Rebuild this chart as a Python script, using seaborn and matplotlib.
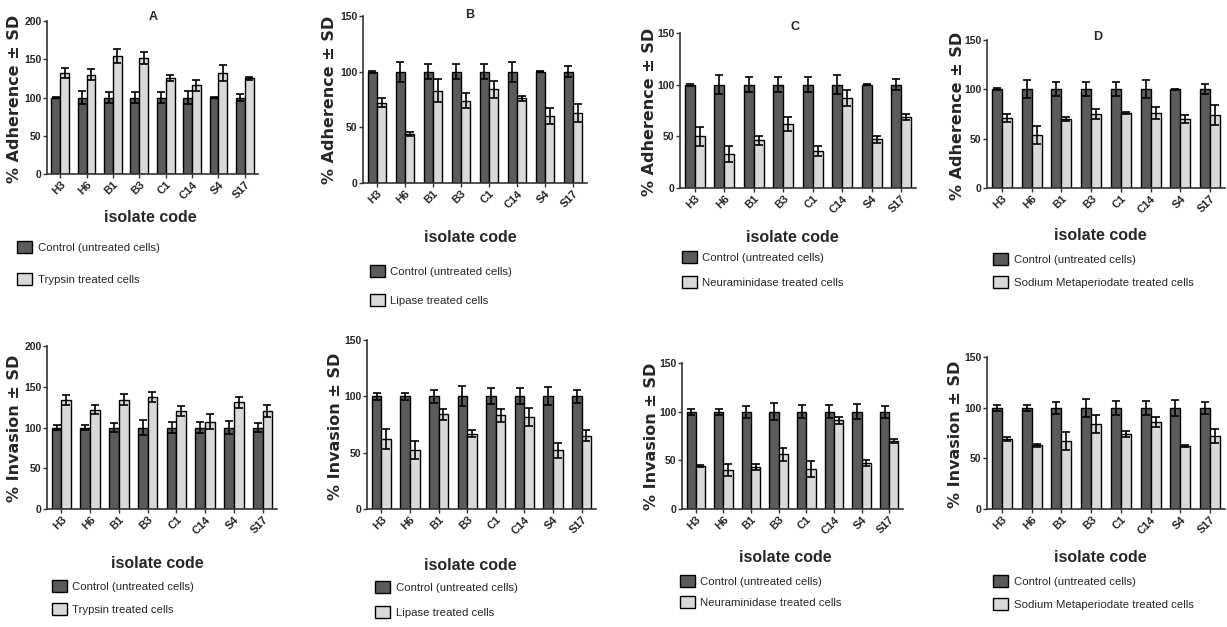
import numpy as np
import pandas as pd
import seaborn as sns
from matplotlib import pyplot as plt

W, H = 1227, 627

isolates = ["H3", "H6", "B1", "B3", "C1", "C14", "S4", "S17"]
control_label = "Control (untreated cells)"

# control bars are 100 % everywhere, only their SD differs
control_mean = [100, 100, 100, 100, 100, 100, 100, 100]
adh_control_sd = [1, 9, 7, 7, 7, 9, 0.5, 5]
inv_control_sd = [3, 3, 6, 9, 7, 7, 8, 6]

# adherence (top row)
adh_trypsin = [132, 130, 154, 152, 126, 116, 132, 125]
adh_trypsin_sd = [7, 7, 9, 8, 4, 7, 10, 2]
adh_lipase = [72, 44, 83, 74, 84, 76, 60, 63]
adh_lipase_sd = [4, 1.5, 10, 7, 8, 2, 7, 8]
adh_neur = [50, 33, 46, 62, 36, 87, 47, 69]
adh_neur_sd = [9, 8, 4, 7, 5, 8, 3, 3]
adh_meta = [71, 54, 70, 75, 76, 76, 70, 74]
adh_meta_sd = [4, 9, 2, 5, 1.5, 6, 4, 10]

# invasion (bottom row)
inv_trypsin = [134, 122, 134, 137, 120, 107, 131, 120]
inv_trypsin_sd = [6, 6, 7, 6, 6, 9, 7, 7]
inv_lipase = [62, 52, 84, 67, 83, 82, 52, 65]
inv_lipase_sd = [9, 8, 5, 3, 6, 8, 7, 5]
inv_neur = [44, 40, 43, 56, 41, 91, 47, 70]
inv_neur_sd = [1, 6, 3, 7, 8, 4, 3, 2]
inv_meta = [69, 63, 67, 84, 74, 86, 62, 72]
inv_meta_sd = [2, 1.5, 9, 9, 3, 5, 1, 7]

panels = [
    # title (+pos), ylabel, treated label, values, sd, control sd, ymax,
    # axes box (x0, x1, ytop, ybottom), ylabel pos, xlabel pos, legend top-left, row gap
    ("A", (153, 17), "% Adherence ± SD", "Trypsin treated cells", adh_trypsin, adh_trypsin_sd, adh_control_sd, 200,
     (47, 258, 21, 174), (15, 99), (150, 218), (17, 241), 34),
    ("B", (470, 15), "% Adherence ± SD", "Lipase treated cells", adh_lipase, adh_lipase_sd, adh_control_sd, 150,
     (363, 587, 16, 183), (330, 100), (470, 238), (370, 265), 31),
    ("C", (795, 27), "% Adherence ± SD", "Neuraminidase treated cells", adh_neur, adh_neur_sd, adh_control_sd, 150,
     (680, 916, 33, 188), (649, 112), (792, 237), (682, 251), 27),
    ("D", (1098, 37), "% Adherence ± SD", "Sodium Metaperiodate treated cells", adh_meta, adh_meta_sd, adh_control_sd, 150,
     (987, 1225, 40, 188), (958, 116), (1100, 235), (993, 253), 25),
    ("", None, "% Invasion ± SD", "Trypsin treated cells", inv_trypsin, inv_trypsin_sd, inv_control_sd, 200,
     (47, 277, 346, 509), (15, 428), (157, 563), (52, 580), 25),
    ("", None, "% Invasion ± SD", "Lipase treated cells", inv_lipase, inv_lipase_sd, inv_control_sd, 150,
     (367, 596, 340, 509), (335, 426), (470, 565), (375, 581), 27),
    ("", None, "% Invasion ± SD", "Neuraminidase treated cells", inv_neur, inv_neur_sd, inv_control_sd, 150,
     (682, 903, 363, 509), (652, 436), (785, 557), (680, 575), 23),
    ("", None, "% Invasion ± SD", "Sodium Metaperiodate treated cells", inv_meta, inv_meta_sd, inv_control_sd, 150,
     (987, 1225, 357, 509), (956, 434), (1100, 558), (993, 575), 25),
]

sns.set_style("white")
plt.rcParams['font.family'] = ['Liberation Sans Narrow', 'Liberation Sans', 'DejaVu Sans']

fig = plt.figure(figsize=(W / 100, H / 100), dpi=100)

leg_pt = 8.2
leg_px = leg_pt * 100 / 72

for (title, tpos, ylab, treat_label, vals, sd, ctrl_sd, ymax,
     box, ylpos, xlpos, legpos, leggap) in panels:
    x0, x1, yt, yb = box
    ax = fig.add_axes([x0 / W, 1 - yb / H, (x1 - x0) / W, (yb - yt) / H])

    df = pd.DataFrame({
        "isolate": isolates * 2,
        "value": control_mean + vals,
        "group": [control_label] * 8 + [treat_label] * 8,
    })
    sns.barplot(data=df, x="isolate", y="value", hue="group", ax=ax,
                palette=["#5b5b5b", "#d9d9d9"], edgecolor="black", linewidth=1,
                width=0.67, gap=0, errorbar=None, saturation=1)

    for cont, means, errs in zip(ax.containers, [control_mean, vals], [ctrl_sd, sd]):
        xs = [b.get_x() + b.get_width() / 2 for b in cont]
        ax.errorbar(xs, means, yerr=errs, fmt="none", ecolor="black",
                    elinewidth=1.2, capsize=3, capthick=1.2)

    handles, labels = ax.get_legend_handles_labels()
    ax.get_legend().remove()
    fig.legend(handles, labels, loc="upper left",
               bbox_to_anchor=(legpos[0] / W, 1 - legpos[1] / H),
               frameon=False, borderpad=0, borderaxespad=0,
               handlelength=1.3, handleheight=1.3, handletextpad=0.5,
               labelspacing=max(leggap - 1.3 * leg_px, 0) / leg_px,
               prop={"size": leg_pt})

    ax.set_xlim(-0.5, 7.5)
    ax.set_ylim(0, ymax)
    ax.set_yticks(np.arange(0, ymax + 1, 50))
    ax.set_xlabel("")
    ax.set_ylabel("")
    sns.despine(ax=ax)
    for s in ["left", "bottom"]:
        ax.spines[s].set_color("#333333")
        ax.spines[s].set_linewidth(1.2)
    ax.tick_params(axis="both", direction="out", length=3, width=1, color="#333333",
                   left=True, bottom=True, pad=1)
    for t in ax.get_yticklabels():
        t.set_fontsize(7.5)
        t.set_fontweight("bold")
    for t in ax.get_xticklabels():
        t.set_fontsize(8)
        t.set_fontweight("bold")
        t.set_rotation(45)
        t.set_ha("right")
        t.set_rotation_mode("anchor")

    if title:
        fig.text(tpos[0] / W, 1 - tpos[1] / H, title, fontsize=9,
                 fontweight="bold", ha="center", va="center")

    fig.text(xlpos[0] / W, 1 - xlpos[1] / H, "isolate code", fontsize=11.5,
             fontweight="bold", ha="center", va="center")
    fig.text(ylpos[0] / W, 1 - ylpos[1] / H, ylab, fontsize=11.5,
             fontweight="bold", ha="center", va="center", rotation=90,
             family="DejaVu Sans")

fig.savefig("out.png", dpi=100, facecolor="white")
